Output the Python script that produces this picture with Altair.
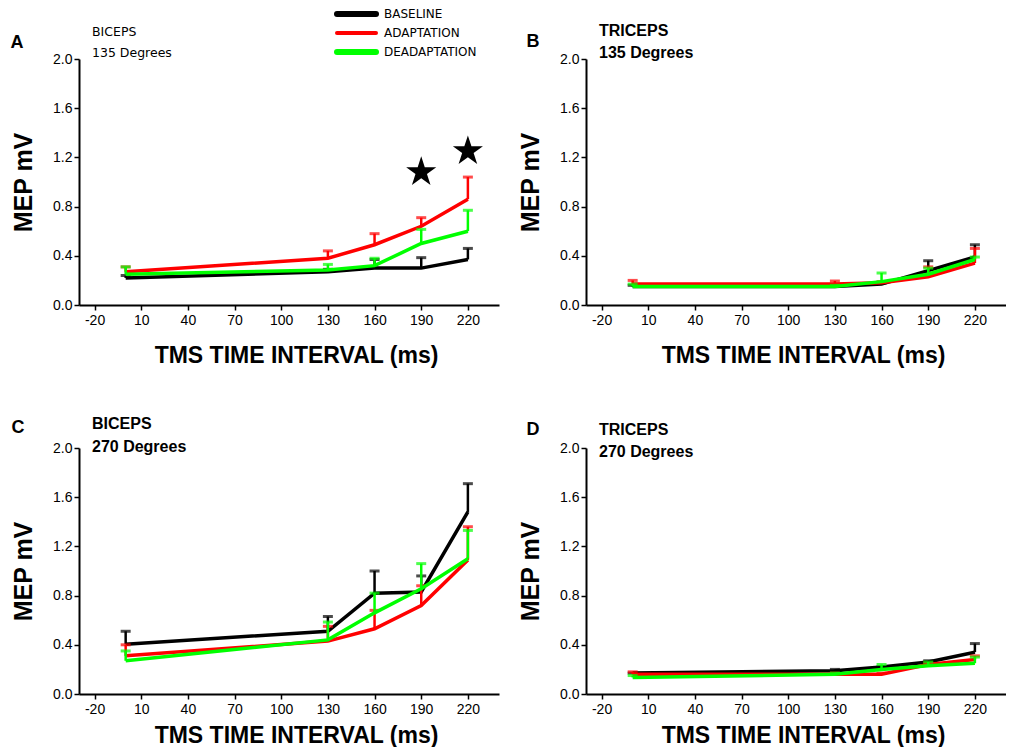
import altair as alt
import pandas as pd

# ---------------- data ----------------
ms = [0, 130, 160, 190, 220]
series_names = ["BASELINE", "ADAPTATION", "DEADAPTATION"]
series_colors = ["#000000", "#ff0000", "#00ff00"]

# Panel A: Biceps 135 deg (mean, upper error)
a_base = [0.22, 0.27, 0.30, 0.30, 0.37]
a_base_up = [0.24, 0.29, 0.37, 0.385, 0.46]
a_adapt = [0.27, 0.38, 0.49, 0.64, 0.86]
a_adapt_up = [0.31, 0.44, 0.58, 0.71, 1.04]
a_dead = [0.25, 0.285, 0.32, 0.50, 0.60]
a_dead_up = [0.31, 0.33, 0.38, 0.615, 0.77]

# Panel B: Triceps 135 deg
b_base = [0.15, 0.15, 0.17, 0.28, 0.39]
b_base_up = [0.16, 0.16, 0.18, 0.36, 0.49]
b_adapt = [0.17, 0.17, 0.18, 0.23, 0.34]
b_adapt_up = [0.20, 0.195, 0.19, 0.31, 0.46]
b_dead = [0.15, 0.15, 0.19, 0.25, 0.37]
b_dead_up = [0.17, 0.16, 0.26, 0.30, 0.39]

# Panel C: Biceps 270 deg
c_base = [0.405, 0.51, 0.82, 0.83, 1.48]
c_base_up = [0.51, 0.63, 1.00, 0.96, 1.71]
c_adapt = [0.31, 0.43, 0.53, 0.72, 1.09]
c_adapt_up = [0.40, 0.55, 0.68, 0.88, 1.36]
c_dead = [0.27, 0.44, 0.66, 0.855, 1.10]
c_dead_up = [0.35, 0.585, 0.82, 1.06, 1.33]

# Panel D: Triceps 270 deg
d_base = [0.17, 0.19, 0.22, 0.26, 0.34]
d_base_up = [0.17, 0.20, 0.22, 0.27, 0.41]
d_adapt = [0.16, 0.16, 0.16, 0.24, 0.28]
d_adapt_up = [0.18, 0.17, 0.17, 0.25, 0.31]
d_dead = [0.135, 0.16, 0.20, 0.23, 0.25]
d_dead_up = [0.15, 0.17, 0.24, 0.26, 0.30]

# significance stars (panel A)
star_ms = [190, 220]
star_mep = [1.08, 1.25]

x_ticks = [-20, 10, 40, 70, 100, 130, 160, 190, 220]
y_ticks = [0.0, 0.4, 0.8, 1.2, 1.6, 2.0]

# ---------------- styling ----------------
W, H = 420, 246
FONT = "Liberation Sans"
STAR = ("M0,-1L0.2245,-0.309L0.951,-0.309L0.363,0.118L0.588,0.809L0,0.382"
        "L-0.588,0.809L-0.363,0.118L-0.951,-0.309L-0.2245,-0.309Z")

xscale = alt.Scale(domain=[-30, 240], nice=False, zero=False)
yscale = alt.Scale(domain=[0, 2], nice=False, zero=True)
one = pd.DataFrame({"k": [0]})


def make_df(means, ups):
    rows = []
    for name, m, u in zip(series_names, means, ups):
        for x, v, e in zip(ms, m, u):
            rows.append({"ms": x, "series": name, "mep": v, "up": e})
    return pd.DataFrame(rows)


def label(text, x, y, size, weight="bold", font=FONT, align="left"):
    return alt.Chart(one).mark_text(
        text=text, font=font, fontSize=size, fontWeight=weight,
        align=align, baseline="middle", color="black"
    ).encode(x=alt.value(x), y=alt.value(y))


def panel(means, ups, letter, letter_x, letter_y, line1, line2, sub_y1, sub_y2,
          sub_font, sub_size, sub_weight, xtitle_y, legend=False, stars=False):
    df = make_df(means, ups)
    xenc = alt.X("ms:Q", scale=xscale, axis=alt.Axis(
        values=x_ticks, labelExpr="'' + datum.value",
        title="TMS TIME INTERVAL (ms)", titleX=W / 2 + 7, titleY=xtitle_y,
        titleBaseline="middle", titleAlign="center", labelPadding=3,
        titleFontSize=23))
    yenc = alt.Y("mep:Q", scale=yscale, axis=alt.Axis(
        values=y_ticks, format=".1f", title="MEP mV",
        titleX=-56, titleY=H / 2, titleAngle=-90, titleBaseline="middle",
        titleAlign="center", labelPadding=2, titleFontSize=25))

    layers = []
    base = alt.Chart(df)
    first = True
    for name, col in zip(series_names, series_colors):
        sub = base.transform_filter(alt.datum.series == name)
        if first:
            line = sub.mark_line(color=col, strokeWidth=3.5).encode(x=xenc, y=yenc)
            first = False
        else:
            line = sub.mark_line(color=col, strokeWidth=3.5).encode(x="ms:Q", y="mep:Q")
        err = sub.mark_rule(color=col, strokeWidth=2.5).encode(
            x="ms:Q", y="mep:Q", y2="up:Q")
        cap = sub.mark_tick(color=col, orient="horizontal", size=10, thickness=3).encode(
            x="ms:Q", y="up:Q")
        layers += [line, err, cap]

    if stars:
        sdf = pd.DataFrame({"ms": star_ms, "mep": star_mep})
        layers.append(alt.Chart(sdf).mark_point(
            shape=STAR, size=1000, filled=True, color="black", opacity=1
        ).encode(x="ms:Q", y="mep:Q"))

    layers.append(label(letter, letter_x, letter_y, 18, align="center"))
    layers.append(label(line1, 13, sub_y1, sub_size, weight=sub_weight, font=sub_font))
    layers.append(label(line2, 13, sub_y2, sub_size, weight=sub_weight, font=sub_font))

    if legend:
        ys = [-45, -26, -7]
        widths = [6, 4, 6]
        for name, col, yy, sw in zip(series_names, series_colors, ys, widths):
            layers.append(alt.Chart(one).mark_rule(
                color=col, strokeWidth=sw, strokeCap="round"
            ).encode(x=alt.value(258), x2=alt.value(297), y=alt.value(yy)))
            layers.append(label(name, 305, yy, 12, weight="normal", font="DejaVu Sans"))

    return alt.layer(*layers).properties(width=W, height=H)


pA = panel([a_base, a_adapt, a_dead], [a_base_up, a_adapt_up, a_dead_up],
           "A", -62, -16, "BICEPS", "135 Degrees", -27, -6,
           "DejaVu Sans", 12.5, "normal", 50, legend=True, stars=True)
pB = panel([b_base, b_adapt, b_dead], [b_base_up, b_adapt_up, b_dead_up],
           "B", -53, -17, "TRICEPS", "135 Degrees", -28, -6,
           FONT, 16, "bold", 50)
pC = panel([c_base, c_adapt, c_dead], [c_base_up, c_adapt_up, c_dead_up],
           "C", -61, -20, "BICEPS", "270 Degrees", -24, -1,
           FONT, 16, "bold", 41)
pD = panel([d_base, d_adapt, d_dead], [d_base_up, d_adapt_up, d_dead_up],
           "D", -53, -18, "TRICEPS", "270 Degrees", -18, 4,
           FONT, 16, "bold", 41)

chart = alt.concat(
    pA, pB, pC, pD, columns=2,
    spacing={"row": 143, "column": 87}, bounds="flush"
).properties(
    padding={"left": 2, "top": 0, "right": 0, "bottom": 0}
).configure_view(stroke=None).configure_axis(
    grid=False, domainColor="black", domainWidth=2, tickColor="black",
    tickWidth=1.5, tickSize=5, labelFont=FONT, labelFontSize=14,
    labelColor="black", titleFont=FONT,
    titleFontWeight="bold", titleColor="black"
)

chart.save("out.html", embed_options={"renderer": "svg", "actions": False})
